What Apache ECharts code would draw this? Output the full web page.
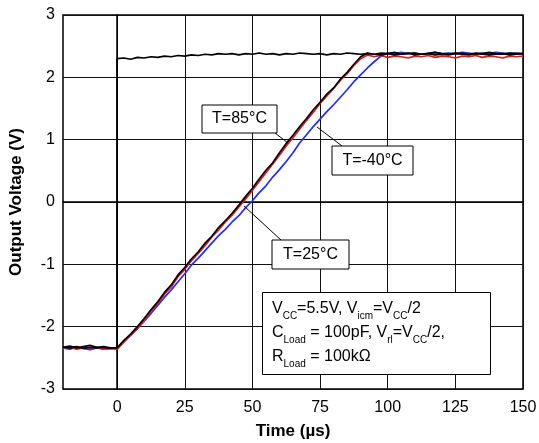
<!DOCTYPE html>
<html>
<head>
<meta charset="utf-8">
<title>Output Voltage vs Time</title>
<script src="https://cdn.jsdelivr.net/npm/echarts@6/dist/echarts.min.js"></script>
<style>
    html, body { margin: 0; padding: 0; background: #fff; }
    #chart { width: 539px; height: 443px; }
</style>
</head>
<body>
<div id="chart"></div>
<script>
// sample times (us), shared by all traces
var timeUs = [-20, -17.5, -15, -12.5, -10, -7.5, -5, -2.5,
    0, 2.5, 5, 7.5, 10, 12.5, 15, 17.5, 20, 22.5, 25, 27.5, 30, 32.5, 35, 37.5, 40,
    42.5, 45, 47.5, 50, 52.5, 55, 57.5, 60, 62.5, 65, 67.5, 70, 72.5, 75, 77.5, 80,
    82.5, 85, 87.5, 90, 92.5, 95, 97.5, 100, 102.5, 105, 107.5, 110, 112.5, 115,
    117.5, 120, 122.5, 125, 127.5, 130, 132.5, 135, 137.5, 140, 142.5, 145, 147.5, 150];

// input step (black), value at t=0 is the top of the step
var stepLow = -2.34;
var inputV = [-2.33, -2.34, -2.32, -2.35, -2.33, -2.34, -2.33, -2.35,
    2.30, 2.31, 2.29, 2.32, 2.31, 2.33, 2.32, 2.34, 2.33, 2.35, 2.34, 2.36, 2.35, 2.37, 2.36, 2.38, 2.37,
    2.38, 2.36, 2.38, 2.37, 2.39, 2.37, 2.38, 2.36, 2.38, 2.37, 2.39, 2.38, 2.37, 2.38, 2.36, 2.38,
    2.37, 2.39, 2.38, 2.37, 2.38, 2.37, 2.39, 2.38, 2.40, 2.37, 2.38, 2.39, 2.37, 2.38,
    2.40, 2.38, 2.37, 2.39, 2.38, 2.37, 2.39, 2.38, 2.40, 2.38, 2.37, 2.39, 2.38, 2.38];

// T=85C output
var out85 = [-2.33, -2.31, -2.34, -2.32, -2.30, -2.33, -2.32, -2.34,
    -2.34, -2.22, -2.12, -2.00, -1.87, -1.73, -1.60, -1.45, -1.33, -1.17, -1.05,
    -0.91, -0.80, -0.66, -0.55, -0.41, -0.30, -0.18, -0.05, 0.09, 0.22,
    0.37, 0.51, 0.63, 0.79, 0.94, 1.07, 1.21, 1.34, 1.48, 1.60,
    1.73, 1.83, 1.97, 2.08, 2.21, 2.33, 2.39,
    2.37, 2.36, 2.38, 2.36, 2.37, 2.39, 2.36, 2.37, 2.38, 2.36, 2.37, 2.36,
    2.38, 2.37, 2.36, 2.38, 2.37, 2.36, 2.37, 2.38, 2.36, 2.37, 2.38];

// T=25C output
var out25 = [-2.35, -2.33, -2.36, -2.34, -2.35, -2.33, -2.36, -2.35,
    -2.36, -2.25, -2.13, -2.03, -1.90, -1.75, -1.63, -1.48, -1.36, -1.20, -1.08,
    -0.94, -0.82, -0.70, -0.56, -0.45, -0.32, -0.21, -0.08, 0.05, 0.19,
    0.33, 0.47, 0.61, 0.75, 0.90, 1.03, 1.17, 1.31, 1.44, 1.58,
    1.70, 1.82, 1.95, 2.06, 2.19, 2.30, 2.36,
    2.33, 2.35, 2.32, 2.34, 2.33, 2.31, 2.34, 2.33, 2.35, 2.32, 2.34, 2.33,
    2.31, 2.34, 2.33, 2.35, 2.32, 2.34, 2.33, 2.31, 2.34, 2.33, 2.34];

// T=-40C output
var outM40 = [-2.34, -2.36, -2.33, -2.35, -2.37, -2.34, -2.36, -2.35,
    -2.35, -2.24, -2.14, -2.03, -1.91, -1.79, -1.66, -1.53, -1.41, -1.28, -1.15,
    -1.01, -0.90, -0.78, -0.66, -0.54, -0.44, -0.32, -0.22, -0.09, 0.02,
    0.15, 0.26, 0.40, 0.52, 0.65, 0.79, 0.95, 1.08, 1.21, 1.33,
    1.45, 1.56, 1.68, 1.80, 1.93, 2.04, 2.15, 2.25, 2.34,
    2.39, 2.38, 2.40, 2.38, 2.39, 2.37, 2.39, 2.40, 2.38, 2.39, 2.38,
    2.40, 2.39, 2.37, 2.39, 2.38, 2.40, 2.39, 2.38, 2.39, 2.38];

var xTicks = [0, 25, 50, 75, 100, 125, 150];

var FONT = "'Liberation Sans', Arial, Helvetica, sans-serif";

function pairs(vals) {
    var d = [];
    for (var i = 0; i < timeUs.length; i++) {
        d.push([timeUs[i], vals[i]]);
    }
    return d;
}

// the input jumps straight up at t=0
var inputData = pairs(inputV);
inputData.splice(timeUs.indexOf(0), 0, [0, stepLow]);

function trace(name, data, color) {
    return {
        name: name,
        type: 'line',
        data: data,
        showSymbol: false,
        lineStyle: { color: color, width: 1.7 },
        itemStyle: { color: color },
        animation: false
    };
}

function callout(x, y, w, h, label, lx1, ly1, lx2, ly2) {
    return [
        {
            type: 'line', z: 20,
            shape: { x1: lx1, y1: ly1, x2: lx2, y2: ly2 },
            style: { stroke: '#000', lineWidth: 1 }
        },
        {
            type: 'rect', z: 21,
            shape: { x: x, y: y, width: w, height: h },
            style: { fill: '#fff', stroke: '#000', lineWidth: 1 }
        },
        {
            type: 'text', z: 22,
            x: x + w / 2, y: y + h / 2,
            style: {
                text: label, font: '16px ' + FONT, fill: '#000',
                align: 'center', verticalAlign: 'middle'
            }
        }
    ];
}

var graphics = []
    .concat(callout(202, 105, 75, 28, 'T=85°C', 275, 133, 288, 143))
    .concat(callout(332, 146, 81, 29, 'T=-40°C', 342, 146, 317, 127))
    .concat(callout(272, 240, 77, 29, 'T=25°C', 281, 240, 244, 206));

// test conditions box
graphics.push({
    type: 'rect', z: 21,
    shape: { x: 262.5, y: 292.5, width: 228, height: 82 },
    style: { fill: '#fff', stroke: '#000', lineWidth: 1 }
});
graphics.push({
    type: 'text', z: 22,
    x: 272, y: 297,
    style: {
        text: 'V{s|CC}=5.5V, V{s|icm}=V{s|CC}/2\nC{s|Load} = 100pF, V{s|rl}=V{s|CC}/2,\nR{s|Load} = 100kΩ',
        fontFamily: FONT, fontSize: 16, fill: '#000', lineHeight: 24,
        rich: {
            s: { fontFamily: FONT, fontSize: 10, fill: '#000', verticalAlign: 'bottom', lineHeight: 24 }
        }
    }
});

var chart = echarts.init(document.getElementById('chart'), null, { renderer: 'canvas' });

chart.setOption({
    animation: false,
    backgroundColor: '#fff',
    grid: {
        left: 63, right: 16, top: 15, bottom: 54,
        outerBoundsMode: 'none', containLabel: false,
        show: true, borderColor: '#000', borderWidth: 1.5
    },
    xAxis: {
        type: 'value', min: -20, max: 150,
        name: 'Time (µs)', nameLocation: 'middle', nameGap: 34,
        nameTextStyle: { fontFamily: FONT, fontSize: 17, fontWeight: 'bold', color: '#000' },
        axisLine: { show: true, lineStyle: { color: '#000', width: 1.5 } },
        axisTick: { show: false, customValues: xTicks },
        axisLabel: { customValues: xTicks, fontFamily: FONT, fontSize: 16, color: '#000', margin: 11 },
        splitLine: { show: true, lineStyle: { color: '#111', width: 1 } }
    },
    yAxis: {
        type: 'value', min: -3, max: 3, interval: 1,
        name: 'Output Voltage (V)', nameLocation: 'middle', nameGap: 38,
        nameTextStyle: { fontFamily: FONT, fontSize: 17, fontWeight: 'bold', color: '#000' },
        axisLine: { show: true, lineStyle: { color: '#000', width: 1.5 } },
        axisTick: { show: false },
        axisLabel: { fontFamily: FONT, fontSize: 16, color: '#000', margin: 8 },
        splitLine: { show: true, lineStyle: { color: '#111', width: 1 } }
    },
    series: [
        trace('T=-40°C', pairs(outM40), '#1f2dff'),
        trace('T=25°C', pairs(out25), '#f01414'),
        trace('T=85°C', pairs(out85), '#000'),
        trace('Input', inputData, '#000')
    ],
    graphic: graphics
});
</script>
</body>
</html>
